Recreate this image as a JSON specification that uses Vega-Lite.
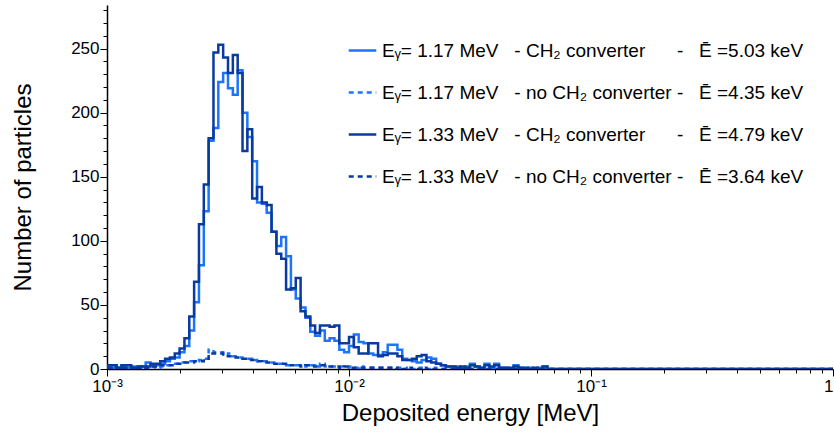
{
  "$schema": "https://vega.github.io/schema/vega-lite/v6.json",
  "width": 726,
  "height": 364,
  "autosize": "none",
  "padding": {"left": 107, "top": 5, "right": 1, "bottom": 63},
  "background": "white",
  "data": {"values": [
    {"e":0.001,"a":2,"b":1,"c":3,"d":1},
    {"e":0.0010471,"a":1,"b":2,"c":3,"d":2},
    {"e":0.0010965,"a":1,"b":1,"c":1,"d":1},
    {"e":0.0011482,"a":3,"b":2,"c":3,"d":1},
    {"e":0.0012023,"a":1,"b":1,"c":3,"d":2},
    {"e":0.0012589,"a":2,"b":1,"c":1,"d":1},
    {"e":0.0013183,"a":1,"b":2,"c":1,"d":2},
    {"e":0.0013804,"a":2,"b":1,"c":2,"d":1},
    {"e":0.0014454,"a":5,"b":2,"c":2,"d":1},
    {"e":0.0015136,"a":3,"b":2,"c":4,"d":2},
    {"e":0.0015849,"a":3,"b":1,"c":4,"d":2},
    {"e":0.0016596,"a":4,"b":2,"c":6,"d":3},
    {"e":0.0017378,"a":6,"b":3,"c":8,"d":3},
    {"e":0.0018197,"a":8,"b":4,"c":9,"d":3},
    {"e":0.0019055,"a":9,"b":4,"c":12,"d":4},
    {"e":0.0019953,"a":13,"b":5,"c":16,"d":4},
    {"e":0.0020893,"a":18,"b":5,"c":24,"d":5},
    {"e":0.0021878,"a":30,"b":6,"c":41,"d":5},
    {"e":0.0022909,"a":52,"b":6,"c":68,"d":6},
    {"e":0.0023988,"a":81,"b":7,"c":113,"d":6},
    {"e":0.0025119,"a":123,"b":8,"c":144,"d":8},
    {"e":0.0026303,"a":178,"b":15,"c":180,"d":12},
    {"e":0.0027542,"a":188,"b":13,"c":247,"d":12},
    {"e":0.002884,"a":224,"b":13,"c":253,"d":12},
    {"e":0.00302,"a":231,"b":11,"c":243,"d":10},
    {"e":0.0031623,"a":219,"b":12,"c":231,"d":10},
    {"e":0.0033113,"a":214,"b":10,"c":245,"d":9},
    {"e":0.0034674,"a":233,"b":9,"c":231,"d":9},
    {"e":0.0036308,"a":200,"b":8,"c":170,"d":8},
    {"e":0.0038019,"a":181,"b":8,"c":187,"d":7},
    {"e":0.0039811,"a":162,"b":7,"c":133,"d":7},
    {"e":0.0041687,"a":130,"b":6,"c":142,"d":6},
    {"e":0.0043652,"a":129,"b":6,"c":130,"d":5},
    {"e":0.0045709,"a":122,"b":5,"c":128,"d":5},
    {"e":0.0047863,"a":107,"b":5,"c":107,"d":4},
    {"e":0.0050119,"a":96,"b":4,"c":90,"d":4},
    {"e":0.0052481,"a":103,"b":4,"c":86,"d":4},
    {"e":0.0054954,"a":88,"b":3,"c":62,"d":3},
    {"e":0.0057544,"a":62,"b":3,"c":63,"d":3},
    {"e":0.0060256,"a":55,"b":3,"c":71,"d":3},
    {"e":0.0063096,"a":48,"b":3,"c":45,"d":2},
    {"e":0.0066069,"a":40,"b":2,"c":41,"d":3},
    {"e":0.0069183,"a":29,"b":3,"c":34,"d":2},
    {"e":0.0072444,"a":26,"b":2,"c":28,"d":2},
    {"e":0.0075858,"a":30,"b":4,"c":34,"d":3},
    {"e":0.0079433,"a":22,"b":2,"c":34,"d":2},
    {"e":0.0083176,"a":24,"b":2,"c":33,"d":2},
    {"e":0.0087096,"a":22,"b":2,"c":34,"d":2},
    {"e":0.0091201,"a":15,"b":2,"c":20,"d":1},
    {"e":0.0095499,"a":13,"b":1,"c":20,"d":2},
    {"e":0.01,"a":18,"b":2,"c":25,"d":1},
    {"e":0.010471,"a":27,"b":1,"c":17,"d":1},
    {"e":0.010965,"a":21,"b":2,"c":12,"d":1},
    {"e":0.011482,"a":20,"b":1,"c":12,"d":1},
    {"e":0.012023,"a":12,"b":1,"c":20,"d":1},
    {"e":0.012589,"a":11,"b":1,"c":20,"d":1},
    {"e":0.013183,"a":11,"b":1,"c":10,"d":1},
    {"e":0.013804,"a":13,"b":1,"c":11,"d":1},
    {"e":0.014454,"a":19,"b":1,"c":12,"d":1},
    {"e":0.015136,"a":19,"b":1,"c":12,"d":0},
    {"e":0.015849,"a":15,"b":1,"c":10,"d":1},
    {"e":0.016596,"a":8,"b":0,"c":7,"d":0},
    {"e":0.017378,"a":7,"b":1,"c":7,"d":1},
    {"e":0.018197,"a":6,"b":0,"c":8,"d":0},
    {"e":0.019055,"a":5,"b":1,"c":10,"d":0},
    {"e":0.019953,"a":7,"b":0,"c":11,"d":1},
    {"e":0.020893,"a":9,"b":0,"c":6,"d":0},
    {"e":0.021878,"a":8,"b":1,"c":5,"d":0},
    {"e":0.022909,"a":4,"b":0,"c":4,"d":0},
    {"e":0.023988,"a":3,"b":0,"c":3,"d":0},
    {"e":0.025119,"a":2,"b":0,"c":2,"d":0},
    {"e":0.026303,"a":2,"b":0,"c":2,"d":0},
    {"e":0.027542,"a":2,"b":0,"c":1,"d":0},
    {"e":0.02884,"a":1,"b":0,"c":2,"d":0},
    {"e":0.0302,"a":2,"b":0,"c":1,"d":0},
    {"e":0.031623,"a":4,"b":0,"c":3,"d":0},
    {"e":0.033113,"a":2,"b":0,"c":2,"d":0},
    {"e":0.034674,"a":1,"b":0,"c":1,"d":0},
    {"e":0.036308,"a":4,"b":0,"c":3,"d":0},
    {"e":0.038019,"a":1,"b":0,"c":2,"d":0},
    {"e":0.039811,"a":4,"b":0,"c":3,"d":0},
    {"e":0.041687,"a":1,"b":0,"c":1,"d":0},
    {"e":0.043652,"a":1,"b":0,"c":1,"d":0},
    {"e":0.045709,"a":0,"b":0,"c":1,"d":0},
    {"e":0.047863,"a":3,"b":0,"c":2,"d":0},
    {"e":0.050119,"a":1,"b":0,"c":1,"d":0},
    {"e":0.052481,"a":0,"b":0,"c":1,"d":0},
    {"e":0.054954,"a":1,"b":0,"c":0,"d":0},
    {"e":0.057544,"a":0,"b":0,"c":1,"d":0},
    {"e":0.060256,"a":1,"b":0,"c":0,"d":0},
    {"e":0.063096,"a":2,"b":0,"c":2,"d":0},
    {"e":0.066069,"a":0,"b":0,"c":0,"d":0},
    {"e":1,"a":0,"b":0,"c":0,"d":0}
  ]},
  "transform": [{"fold": ["a", "b", "c", "d"], "as": ["s", "n"]}],
  "mark": {"type": "line", "interpolate": "step-after", "strokeWidth": 2.5, "strokeJoin": "miter", "strokeCap": "butt", "clip": true},
  "encoding": {
    "x": {
      "field": "e", "type": "quantitative",
      "scale": {"type": "log", "domain": [0.001, 1], "nice": false},
      "axis": {
        "title": "Deposited energy [MeV]",
        "values": [0.001,0.002,0.003,0.004,0.005,0.006,0.007,0.008,0.009,0.01,0.02,0.03,0.04,0.05,0.06,0.07,0.08,0.09,0.1,0.2,0.3,0.4,0.5,0.6,0.7,0.8,0.9,1],
        "labelExpr": "datum.value === 0.001 ? '10\u207b\u00b3' : datum.value === 0.01 ? '10\u207b\u00b2' : datum.value === 0.1 ? '10\u207b\u00b9' : datum.value === 1 ? '1' : ''",
        "labelAlign": {"condition": {"test": "datum.value === 1", "value": "right"}, "value": "center"},
        "tickSize": {"condition": {"test": "indexof([0.001, 0.01, 0.1, 1], datum.value) >= 0", "value": 7}, "value": 4},
        "labelPadding": 2,
        "titlePadding": 7
      }
    },
    "y": {
      "field": "n", "type": "quantitative",
      "scale": {"domain": [0, 284], "nice": false},
      "axis": {
        "title": "Number of particles",
        "values": [0,10,20,30,40,50,60,70,80,90,100,110,120,130,140,150,160,170,180,190,200,210,220,230,240,250,260,270,280],
        "labelExpr": "datum.value % 50 === 0 ? datum.value : ''",
        "tickSize": {"condition": {"test": "datum.value % 50 === 0", "value": 7}, "value": 4},
        "labelPadding": 1,
        "titlePadding": 35
      }
    },
    "color": {
      "field": "s", "type": "nominal",
      "scale": {"domain": ["a", "b", "c", "d"], "range": ["#1c74fc", "#1c74fc", "#0a3a9e", "#0a3a9e"]},
      "legend": {
        "orient": "none",
        "legendX": 240,
        "legendY": 30,
        "title": null,
        "padding": 0,
        "symbolType": "stroke",
        "symbolSize": 760,
        "symbolStrokeWidth": 2.5,
        "labelFont": "Liberation Sans",
        "labelFontSize": 19,
        "labelColor": "black",
        "labelOffset": 4,
        "labelLimit": 700,
        "rowPadding": 16,
        "labelExpr": "datum.value === 'a' ? 'E\u1d67= 1.17 MeV\u00a0\u00a0\u00a0- CH\u2082 converter\u00a0\u00a0\u00a0\u00a0\u00a0\u00a0-\u00a0\u00a0\u00a0\u0112 =5.03 keV' : datum.value === 'b' ? 'E\u1d67= 1.17 MeV\u00a0\u00a0\u00a0- no CH\u2082 converter -\u00a0\u00a0\u00a0\u0112 =4.35 keV' : datum.value === 'c' ? 'E\u1d67= 1.33 MeV\u00a0\u00a0\u00a0- CH\u2082 converter\u00a0\u00a0\u00a0\u00a0\u00a0\u00a0-\u00a0\u00a0\u00a0\u0112 =4.79 keV' : 'E\u1d67= 1.33 MeV\u00a0\u00a0\u00a0- no CH\u2082 converter -\u00a0\u00a0\u00a0\u0112 =3.64 keV'"
      }
    },
    "strokeDash": {
      "field": "s", "type": "nominal",
      "scale": {"domain": ["a", "b", "c", "d"], "range": [[1, 0], [5, 4], [1, 0], [5, 4]]},
      "legend": {
        "orient": "none",
        "legendX": 240,
        "legendY": 30,
        "title": null,
        "padding": 0,
        "symbolType": "stroke",
        "symbolSize": 760,
        "symbolStrokeWidth": 2.5,
        "labelFont": "Liberation Sans",
        "labelFontSize": 19,
        "labelColor": "black",
        "labelOffset": 4,
        "labelLimit": 700,
        "rowPadding": 16,
        "labelExpr": "datum.value === 'a' ? 'E\u1d67= 1.17 MeV\u00a0\u00a0\u00a0- CH\u2082 converter\u00a0\u00a0\u00a0\u00a0\u00a0\u00a0-\u00a0\u00a0\u00a0\u0112 =5.03 keV' : datum.value === 'b' ? 'E\u1d67= 1.17 MeV\u00a0\u00a0\u00a0- no CH\u2082 converter -\u00a0\u00a0\u00a0\u0112 =4.35 keV' : datum.value === 'c' ? 'E\u1d67= 1.33 MeV\u00a0\u00a0\u00a0- CH\u2082 converter\u00a0\u00a0\u00a0\u00a0\u00a0\u00a0-\u00a0\u00a0\u00a0\u0112 =4.79 keV' : 'E\u1d67= 1.33 MeV\u00a0\u00a0\u00a0- no CH\u2082 converter -\u00a0\u00a0\u00a0\u0112 =3.64 keV'"
      }
    }
  },
  "config": {
    "font": "Liberation Sans",
    "view": {"stroke": null},
    "axis": {
      "grid": false,
      "domainColor": "black",
      "domainWidth": 1.5,
      "tickColor": "black",
      "tickWidth": 1,
      "labelFont": "Liberation Sans",
      "labelFontSize": 17,
      "labelColor": "black",
      "labelOverlap": false,
      "labelFlush": false,
      "labelBound": false,
      "titleFont": "Liberation Sans",
      "titleFontSize": 24,
      "titleFontWeight": "normal",
      "titleColor": "black"
    }
  }
}
